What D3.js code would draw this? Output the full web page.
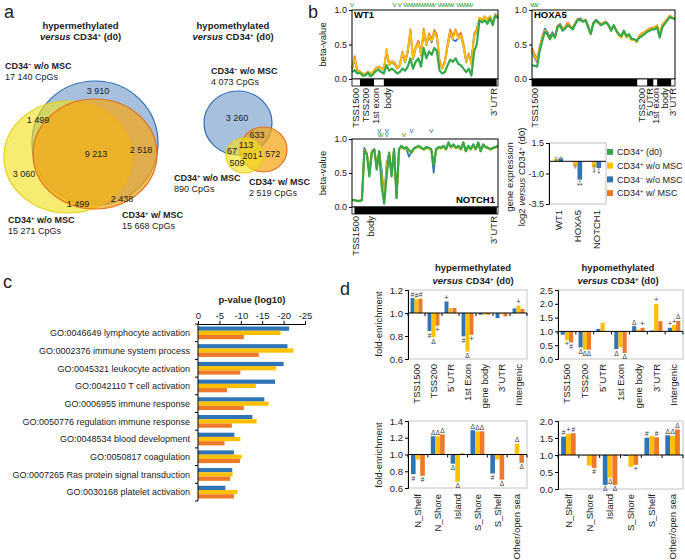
<!DOCTYPE html>
<html><head><meta charset="utf-8">
<script src="https://cdn.jsdelivr.net/npm/d3@7"></script>
<style>body{margin:0;background:#fff}svg{display:block}</style>
</head><body>
<svg id="fig" width="685" height="560"></svg>
<script>
// ================= DATA =================
// Panel a: Venn counts
const vennSetNames = ["CD34^- w/o MSC", "CD34^+ w/o MSC", "CD34^+ w/ MSC"];
const hyperTotals = [17140, 15271, 15668];
const hyperRegions = [3910, 1499, 9213, 2518, 3060, 1499, 2438];
const hypoTotals = [4073, 890, 2519];
const hypoRegions = [3260, 633, 113, 67, 201, 1572, 509];

// Panel b: beta-values along genes
const wt1Green = [0.10,0.13,0.08,0.09,0.05,0.05,0.09,0.04,0.07,0.12,0.13,0.10,0.08,0.20,0.12,0.15,0.12,0.08,0.10,0.15,0.12,0.18,0.30,0.15,0.25,0.30,0.18,0.45,0.30,0.40,0.35,0.45,0.40,0.12,0.08,0.10,0.20,0.28,0.25,0.30,0.22,0.20,0.15,0.10,0.15,0.05,0.40,0.50,0.85,0.82,0.85,0.80,0.88,0.78,0.92,0.88];
const wt1Yellow = [0.15,0.30,0.12,0.10,0.08,0.06,0.10,0.07,0.10,0.15,0.17,0.15,0.13,0.44,0.20,0.25,0.22,0.15,0.20,0.38,0.25,0.40,0.70,0.30,0.45,0.52,0.35,0.70,0.50,0.63,0.55,0.68,0.60,0.25,0.15,0.25,0.48,0.68,0.58,0.70,0.58,0.63,0.48,0.25,0.35,0.20,0.63,0.70,0.88,0.85,0.90,0.85,0.90,0.80,0.93,0.90];
const wt1Orange = [0.16,0.33,0.13,0.11,0.08,0.07,0.11,0.07,0.11,0.16,0.18,0.16,0.14,0.42,0.22,0.26,0.24,0.16,0.21,0.40,0.27,0.42,0.72,0.32,0.47,0.55,0.37,0.73,0.52,0.66,0.57,0.71,0.64,0.27,0.16,0.27,0.52,0.72,0.62,0.72,0.63,0.67,0.52,0.27,0.37,0.22,0.66,0.72,0.89,0.86,0.91,0.86,0.91,0.81,0.94,0.91];
const wt1Blue = [0.14,0.28,0.12,0.10,0.08,0.06,0.10,0.07,0.10,0.15,0.16,0.15,0.13,0.40,0.20,0.24,0.21,0.15,0.19,0.36,0.24,0.38,0.68,0.29,0.44,0.55,0.34,0.68,0.49,0.62,0.53,0.67,0.60,0.24,0.15,0.24,0.47,0.66,0.57,0.55,0.59,0.62,0.47,0.24,0.34,0.28,0.62,0.69,0.87,0.85,0.90,0.85,0.90,0.80,0.93,0.90];
const wt1Segments = [[0,3],[3,8.3],[8.3,12],[12,54.5],[54.5,55]];
const wt1Regions = ["TSS1500","TSS200","1st exon","body","3´UTR"];
const wt1RegionAt = [1.5,5.3,9,13.6,53.5];
const wt1MarksGreen = [0,16,18,20,21,22,23,24,25,26,27,28,29,30,31,33,34,35,36,37,38,40,41,42,43,44,45];

const hoxGreen = [0.20,0.19,0.18,0.40,0.55,0.68,0.65,0.58,0.65,0.60,0.75,0.78,0.70,0.73,0.78,0.75,0.72,0.80,0.86,0.85,0.83,0.85,0.75,0.65,0.80,0.85,0.82,0.78,0.80,0.82,0.78,0.70,0.78,0.70,0.65,0.62,0.70,0.62,0.65,0.58,0.58,0.55,0.60,0.62,0.65,0.68,0.70,0.72,0.72,0.75,0.60,0.75,0.80,0.85,0.90,0.88,0.87];
const hoxYellow = [0.42,0.33,0.27,0.45,0.58,0.70,0.64,0.57,0.64,0.60,0.74,0.77,0.71,0.74,0.80,0.76,0.73,0.81,0.86,0.85,0.84,0.85,0.76,0.66,0.80,0.84,0.81,0.79,0.81,0.82,0.77,0.71,0.76,0.70,0.63,0.60,0.69,0.60,0.63,0.56,0.57,0.53,0.62,0.65,0.67,0.70,0.72,0.73,0.74,0.77,0.63,0.78,0.82,0.86,0.91,0.89,0.87];
const hoxOrange = [0.45,0.36,0.29,0.47,0.60,0.71,0.66,0.59,0.66,0.62,0.76,0.79,0.72,0.76,0.82,0.77,0.74,0.82,0.87,0.86,0.84,0.86,0.77,0.67,0.81,0.85,0.82,0.80,0.82,0.83,0.78,0.72,0.77,0.71,0.64,0.61,0.70,0.61,0.64,0.57,0.58,0.54,0.63,0.66,0.68,0.71,0.73,0.74,0.75,0.78,0.64,0.79,0.83,0.87,0.92,0.89,0.88];
const hoxBlue = [0.40,0.31,0.25,0.44,0.60,0.73,0.68,0.61,0.68,0.62,0.77,0.80,0.72,0.75,0.79,0.76,0.73,0.81,0.87,0.88,0.84,0.86,0.76,0.66,0.81,0.86,0.83,0.79,0.81,0.83,0.78,0.71,0.78,0.70,0.64,0.61,0.70,0.61,0.64,0.57,0.57,0.54,0.61,0.63,0.66,0.69,0.71,0.73,0.73,0.76,0.61,0.76,0.81,0.86,0.90,0.88,0.87];
const hoxSegments = [[0,41.2],[41.2,45.1],[45.1,47.5],[47.5,49],[49,54.5],[54.5,56]];
const hoxRegions = ["TSS1500","TSS200","5´UTR","1st exon","body","3´UTR"];
const hoxRegionAt = [1.2,42.8,45.9,48.6,51.9,55];
const hoxMarksGreen = [0,1,2];

const notchGreen = [0.10,0.10,0.09,0.09,0.10,0.82,0.78,0.45,0.80,0.85,0.55,0.82,0.30,0.05,0.45,0.80,0.45,0.85,0.13,0.85,0.90,0.86,0.88,0.84,0.80,0.86,0.88,0.90,0.87,0.85,0.88,0.87,0.85,0.62,0.85,0.88,0.87,0.90,0.85,0.95,0.88,0.92,0.87,0.90,0.85,0.95,0.82,0.90,0.85,0.92,0.85,0.95,0.82,0.92,0.88,0.87,0.85,0.87,0.88,0.90];
const notchYellow = [0.10,0.10,0.09,0.09,0.10,0.80,0.78,0.55,0.82,0.84,0.58,0.80,0.45,0.10,0.60,0.80,0.48,0.84,0.14,0.84,0.88,0.85,0.87,0.82,0.80,0.85,0.87,0.88,0.86,0.84,0.86,0.86,0.84,0.64,0.84,0.86,0.86,0.88,0.84,0.93,0.87,0.90,0.86,0.88,0.84,0.93,0.82,0.88,0.84,0.90,0.84,0.93,0.82,0.90,0.87,0.86,0.84,0.86,0.87,0.89];
const notchOrange = [0.10,0.10,0.09,0.09,0.10,0.84,0.79,0.50,0.81,0.85,0.58,0.82,0.40,0.08,0.50,0.80,0.46,0.85,0.14,0.85,0.89,0.86,0.88,0.83,0.80,0.86,0.88,0.89,0.87,0.85,0.87,0.87,0.85,0.62,0.85,0.87,0.87,0.89,0.85,0.94,0.88,0.91,0.87,0.89,0.85,0.94,0.82,0.89,0.85,0.91,0.85,0.94,0.82,0.91,0.88,0.87,0.85,0.87,0.88,0.90];
const notchBlue = [0.10,0.10,0.09,0.09,0.10,0.87,0.78,0.50,0.80,0.85,0.60,0.82,0.55,0.15,0.65,0.78,0.50,0.85,0.14,0.85,0.90,0.86,0.86,0.74,0.80,0.86,0.88,0.90,0.87,0.85,0.88,0.87,0.85,0.50,0.85,0.88,0.87,0.90,0.85,0.94,0.88,0.92,0.87,0.90,0.85,0.94,0.82,0.90,0.85,0.92,0.85,0.94,0.82,0.92,0.88,0.87,0.85,0.87,0.88,0.90];
const notchSegments = [[0,1],[1,58.5],[58.5,59]];
const notchRegions = ["TSS1500","body","3´UTR"];
const notchRegionAt = [1.6,7.5,57.4];
const notchMarksGreen = [11,12,14,21];
const notchMarksBlue = [11,14,24,32];

// Panel b: gene expression
const exprGenes = ["WT1","HOXA5","NOTCH1"];
const exprYellow = [0.20,-0.43,-0.50];
const exprBlue = [0.25,-1.50,-0.55];
const exprYellowErr = [0.12,0.12,0.15];
const exprBlueErr = [0.10,0.18,0.15];
const exprSigYellow = ["","","*"];
const exprSigBlue = ["","**","*"];
const legendNames = ["CD34^+ (d0)","CD34^+ w/o MSC","CD34^- w/o MSC","CD34^+ w/ MSC"];

// Panel c: GO terms, p-value (log10)
const goTerms = ["GO:0046649 lymphocyte activation","GO:0002376 immune system process","GO:0045321 leukocyte activation","GO:0042110 T cell activation","GO:0006955 immune response","GO:0050776 regulation immune response","GO:0048534 blood development","GO:0050817 coagulation","GO:0007265 Ras protein signal transduction","GO:0030168 platelet activation"];
const goBlue = [-21.3,-20.9,-20.0,-18.0,-15.5,-12.7,-8.5,-8.4,-8.0,-6.4];
const goYellow = [-19.3,-22.3,-18.2,-13.5,-16.5,-13.7,-9.9,-10.2,-8.1,-9.2];
const goOrange = [-10.7,-14.2,-9.9,-6.8,-10.7,-7.9,-6.2,-9.8,-7.5,-8.4];
const goTicks = [0,-5,-10,-15,-20,-25];

// Panel d: fold-enrichment
const regionCats = ["TSS1500","TSS200","5´UTR","1st Exon","gene body","3´UTR","Intergenic"];
const islandCats = ["N_Shelf","N_Shore","Island","S_Shore","S_Shelf","Other/open sea"];
const hyperRegBlue = [1.13,0.843,1.10,0.797,0.985,0.955,1.04];
const hyperRegYellow = [1.12,0.79,1.043,0.665,0.985,0.99,1.065];
const hyperRegOrange = [1.125,0.89,1.043,0.81,0.985,0.97,1.035];
const hyperRegSymB = ["#","#","+","#","","",""];
const hyperRegSymY = ["#","Δ","","Δ","","","+"];
const hyperRegSymO = ["#","+","","+","","",""];
const hypoRegBlue = [0.88,0.42,1.09,0.36,1.19,1.03,1.13];
const hypoRegYellow = [0.69,0.34,1.31,0.42,1.07,2.0,1.23];
const hypoRegOrange = [0.60,0.34,1.0,0.22,1.13,1.37,1.38];
const hypoRegSymB = ["","Δ","","Δ","Δ","","+"];
const hypoRegSymY = ["+","Δ","","","","+","+"];
const hypoRegSymO = ["#","Δ","","Δ","+","","Δ"];
const hyperIslBlue = [0.765,1.218,0.89,1.29,0.773,1.0];
const hyperIslYellow = [0.94,1.218,0.674,1.277,0.94,1.13];
const hyperIslOrange = [0.745,1.24,1.012,1.277,0.70,0.90];
const hyperIslSymB = ["#","Δ","Δ","Δ","#",""];
const hyperIslSymY = ["","Δ","Δ","Δ","","Δ"];
const hyperIslSymO = ["#","Δ","","Δ","Δ","Δ"];
const hypoIslBlue = [1.54,0.99,0.12,0.97,1.51,1.58];
const hypoIslYellow = [1.62,0.69,0.33,0.65,1.56,1.56];
const hypoIslOrange = [1.64,0.62,0.12,0.71,1.52,1.75];
const hypoIslSymB = ["#","","Δ","","#","Δ"];
const hypoIslSymY = ["+","","Δ","","","Δ"];
const hypoIslSymO = ["#","#","Δ","+","#","Δ"];

// ================= STYLE / LAYOUT =================
const FONT = "'Liberation Sans', Arial, Helvetica, sans-serif";
const COL = {green:"#34A84A", yellow:"#FFC000", blue:"#2E74B6", orange:"#EC7A2A"};
const svg = d3.select("#fig").attr("font-family", FONT);

function rich(t, str){
  const parts = str.split(/(\^[+\-]|_[^_]+_)/).filter(s=>s.length);
  parts.forEach(p=>{
    if(p[0]==="^" && p.length===2) t.append("tspan").attr("baseline-shift","super").attr("font-size","65%").text(p[1]==="-"?"−":"+");
    else if(p[0]==="_" && p.length>2) t.append("tspan").attr("font-style","italic").text(p.slice(1,-1));
    else t.append("tspan").text(p);
  });
  return t;
}
function txt(x,y,str,o={}){
  const t = svg.append("text").attr("x",x).attr("y",y)
    .attr("font-size",o.size||9).attr("fill",o.fill||"#222")
    .attr("text-anchor",o.anchor||"start");
  if(o.bold) t.attr("font-weight","bold");
  rich(t,str); return t;
}
function vtxt(x,y,str,o={}){
  const t = svg.append("text").attr("transform",`translate(${x},${y}) rotate(-90)`)
    .attr("dy","0.35em").attr("font-size",o.size||9.5).attr("fill",o.fill||"#222")
    .attr("text-anchor",o.anchor||"end");
  if(o.bold) t.attr("font-weight","bold");
  rich(t,str); return t;
}
const fmtThousands = v => d3.format(",")(v).replace(/,/g," ");

// panel letters
txt(4,18,"a",{size:18}); txt(308,18,"b",{size:18}); txt(3,288,"c",{size:18}); txt(340,295,"d",{size:18});

// ================= PANEL A =================
const vennStyle = {
  blue:{fill:"#4F81BD",op:0.5,stroke:"#2E6DB4"},
  yellow:{fill:"#F2E01C",op:0.62,stroke:"#E3CF1A"},
  orange:{fill:"#F5A512",op:0.72,stroke:"#E0701E"}
};
function ellipse(key, g){
  const s = vennStyle[key];
  svg.append("ellipse").attr("cx",g[0]).attr("cy",g[1]).attr("rx",g[2]).attr("ry",g[3])
    .attr("fill",s.fill).attr("fill-opacity",s.op).attr("stroke",s.stroke).attr("stroke-width",1.2);
}
const hyperGeom = {blue:[95,143,63,62], yellow:[68,157,64,56], orange:[95,154,62,55]};
["blue","yellow","orange"].forEach(k=>ellipse(k,hyperGeom[k]));
const hypoGeom = {blue:[238,123,34,32], orange:[263.5,149.5,23.5,22.5], yellow:[244.5,155.5,18.5,17.5]};
["blue","orange","yellow"].forEach(k=>ellipse(k,hypoGeom[k]));

txt(80.5,28.5,"hypermethylated",{size:9.5,bold:true,anchor:"middle"});
txt(80.5,40,"_versus_ CD34^+ (d0)",{size:9.5,bold:true,anchor:"middle"});
txt(233,28.5,"hypomethylated",{size:9.5,bold:true,anchor:"middle"});
txt(233,40,"_versus_ CD34^+ (d0)",{size:9.5,bold:true,anchor:"middle"});

const hyperRegionPos = [[98,94],[38,123],[96,157],[141,153],[24,177],[78,207],[122,202]];
hyperRegions.forEach((v,i)=>txt(hyperRegionPos[i][0],hyperRegionPos[i][1],fmtThousands(v),{size:9,anchor:"middle"}));
const hyperLabelPos = [[5,69],[8,223],[122,218]];
vennSetNames.forEach((n,i)=>{
  txt(hyperLabelPos[i][0],hyperLabelPos[i][1],n,{size:9,bold:true});
  txt(hyperLabelPos[i][0],hyperLabelPos[i][1]+11,fmtThousands(hyperTotals[i])+" CpGs",{size:9});
});
const hypoRegionPos = [[237,121],[257,138],[246,148],[232,154],[250,159],[269,157],[237,166]];
hypoRegions.forEach((v,i)=>txt(hypoRegionPos[i][0],hypoRegionPos[i][1],fmtThousands(v),{size:9,anchor:"middle"}));
const hypoLabelPos = [[211,74],[174,181],[249,185]];
vennSetNames.forEach((n,i)=>{
  txt(hypoLabelPos[i][0],hypoLabelPos[i][1],n,{size:9,bold:true});
  txt(hypoLabelPos[i][0],hypoLabelPos[i][1]+11,fmtThousands(hypoTotals[i])+" CpGs",{size:9});
});

// ================= PANEL B: line charts =================
function styleAxis(ax, size){
  ax.attr("font-family",FONT).attr("font-size",size||9);
  ax.selectAll("text").attr("fill","#222");
  ax.selectAll("line").attr("stroke","#000");
}
function lineChart(L, series, segs, regions, regionAt, marks){
  const n = series[0].vals.length;
  const x = d3.scaleLinear().domain([0,n-1]).range([L.x0,L.x1]);
  const y = d3.scaleLinear().domain([0,1]).range([L.y1,L.y0]);
  const ax = svg.append("g").attr("transform",`translate(${L.x0},0)`)
    .call(d3.axisLeft(y).tickValues([0,0.5,1]).tickFormat(d=>d.toFixed(1)).tickSize(3).tickPadding(2));
  ax.select(".domain").remove(); styleAxis(ax,9);
  const line = d3.line().x((d,i)=>x(i)).y(d=>y(d)).curve(d3.curveLinear);
  series.forEach(s=>svg.append("path").datum(s.vals).attr("d",line).attr("fill","none")
    .attr("stroke",s.color).attr("stroke-width",s.w).attr("stroke-linejoin","round"));
  svg.append("rect").attr("x",L.x0).attr("y",L.y0).attr("width",L.x1-L.x0).attr("height",L.y1-L.y0)
    .attr("fill","none").attr("stroke","#000").attr("stroke-width",1);
  // gene structure bar
  svg.append("rect").attr("x",L.x0).attr("y",L.y1).attr("width",L.x1-L.x0).attr("height",7)
    .attr("fill","#fff").attr("stroke","#000").attr("stroke-width",0.8);
  segs.forEach((s,i)=>{ if(L.firstBlack ? i%2===0 : i%2===1)
    svg.append("rect").attr("x",x(s[0])).attr("y",L.y1).attr("width",x(s[1])-x(s[0])).attr("height",7).attr("fill","#000"); });
  regions.forEach((r,i)=>vtxt(x(regionAt[i]),L.y1+9,r,{size:9.5}));
  marks.forEach(m=>m.idx.forEach(i=>svg.append("text").attr("x",x(i)).attr("y",L.y0-m.dy)
    .attr("text-anchor","middle").attr("font-size",8).attr("fill",m.color).text("v")));
  return {x,y};
}
function seriesOf(g,yl,b,o){
  return [{vals:b,color:COL.blue,w:1.7},{vals:o,color:COL.orange,w:1.8},{vals:yl,color:COL.yellow,w:1.8},{vals:g,color:COL.green,w:2.2}];
}
lineChart({x0:352,x1:498,y0:10,y1:79,firstBlack:false}, seriesOf(wt1Green,wt1Yellow,wt1Blue,wt1Orange),
  wt1Segments, wt1Regions, wt1RegionAt, [{idx:wt1MarksGreen,color:COL.green,dy:3}]);
txt(354,18,"WT1",{size:9.5,bold:true,fill:"#000"});
lineChart({x0:532,x1:675,y0:10,y1:79,firstBlack:true}, seriesOf(hoxGreen,hoxYellow,hoxBlue,hoxOrange),
  hoxSegments, hoxRegions, hoxRegionAt, [{idx:hoxMarksGreen,color:COL.green,dy:3}]);
txt(534,18,"HOXA5",{size:9.5,bold:true,fill:"#000"});
lineChart({x0:352,x1:498,y0:139,y1:207,firstBlack:false}, seriesOf(notchGreen,notchYellow,notchBlue,notchOrange),
  notchSegments, notchRegions, notchRegionAt, [{idx:notchMarksBlue,color:COL.blue,dy:6},{idx:notchMarksGreen,color:COL.green,dy:2}]);
txt(495,203,"NOTCH1",{size:9.5,bold:true,fill:"#000",anchor:"end"});
vtxt(323,44.5,"beta-value",{size:9.5,anchor:"middle"});
vtxt(323,173,"beta-value",{size:9.5,anchor:"middle"});

// expression chart
(function(){
  const L = {x0:549,x1:606,y0:143,y1:204};
  const x = d3.scaleBand().domain(exprGenes).range([L.x0,L.x1]);
  const xs = d3.scaleBand().domain(["g","y","b","o"]).range([0,x.bandwidth()]).paddingOuter(0.05);
  const y = d3.scaleLinear().domain([-3.5,1.5]).range([L.y1,L.y0]);
  svg.append("rect").attr("x",L.x0).attr("y",L.y0).attr("width",L.x1-L.x0).attr("height",L.y1-L.y0)
    .attr("fill","none").attr("stroke","#BFBFBF");
  const sets = [{k:"y",v:exprYellow,e:exprYellowErr,s:exprSigYellow,c:COL.yellow},{k:"b",v:exprBlue,e:exprBlueErr,s:exprSigBlue,c:COL.blue}];
  sets.forEach(st=>exprGenes.forEach((gname,i)=>{
    const v=st.v[i], bx=x(gname)+xs(st.k), bw=xs.bandwidth();
    svg.append("rect").attr("x",bx).attr("y",y(Math.max(0,v))).attr("width",bw).attr("height",Math.abs(y(v)-y(0))).attr("fill",st.c);
    const cx=bx+bw/2, e=st.e[i];
    svg.append("line").attr("x1",cx).attr("x2",cx).attr("y1",y(v-e)).attr("y2",y(v+e)).attr("stroke","#777").attr("stroke-width",0.7);
    [v-e,v+e].forEach(t=>svg.append("line").attr("x1",cx-1.2).attr("x2",cx+1.2).attr("y1",y(t)).attr("y2",y(t)).attr("stroke","#777").attr("stroke-width",0.7));
    if(st.s[i]) svg.append("text").attr("x",cx).attr("y",y(v-e)+6).attr("text-anchor","middle").attr("font-size",7).attr("fill","#333").text(st.s[i]);
  }));
  svg.append("line").attr("x1",L.x0).attr("x2",L.x1).attr("y1",y(0)).attr("y2",y(0)).attr("stroke","#000");
  const ax = svg.append("g").attr("transform",`translate(${L.x0},0)`)
    .call(d3.axisLeft(y).tickValues([1.5,-1.0,-3.5]).tickFormat(d=>d.toFixed(1)).tickSize(3).tickPadding(2));
  styleAxis(ax,9); ax.select(".domain").attr("stroke","#000");
  exprGenes.forEach(gname=>vtxt(x(gname)+x.bandwidth()/2,L.y1+6,gname,{size:9.5}));
  vtxt(510,177,"gene expression",{size:9.5,anchor:"middle"});
  vtxt(521.5,177,"log2 _versus_ CD34^+ (d0)",{size:9.5,anchor:"middle"});
  const lc = [COL.green,COL.yellow,COL.blue,COL.orange];
  const ly = d3.scaleBand().domain(legendNames).range([145,200]);
  legendNames.forEach((nm,i)=>{
    const cy = ly(nm)+ly.bandwidth()/2;
    svg.append("rect").attr("x",607).attr("y",cy-3).attr("width",6).attr("height",6).attr("fill",lc[i]);
    txt(617,cy+3.3,nm,{size:9});
  });
})();

// ================= PANEL C =================
(function(){
  const x = d3.scaleLinear().domain([0,-25]).range([198,305]);
  const y = d3.scaleBand().domain(goTerms).range([324,501]).paddingInner(0.28).paddingOuter(0.14);
  const ys = d3.scaleBand().domain([0,1,2]).range([0,y.bandwidth()]);
  const sets=[goBlue,goYellow,goOrange], cols=[COL.blue,COL.yellow,COL.orange];
  sets.forEach((arr,si)=>goTerms.forEach((t,i)=>{
    svg.append("rect").attr("x",x(0)).attr("y",y(t)+ys(si)).attr("width",x(arr[i])-x(0)).attr("height",ys.bandwidth()).attr("fill",cols[si]);
  }));
  const ax = svg.append("g").attr("transform","translate(0,324)")
    .call(d3.axisTop(x).tickValues(goTicks).tickFormat(d=>String(d)).tickSize(3).tickPadding(2));
  styleAxis(ax,9.5); ax.select(".domain").attr("stroke","#000");
  svg.append("line").attr("x1",198).attr("x2",198).attr("y1",324).attr("y2",501).attr("stroke","#000");
  d3.range(goTerms.length+1).forEach(k=>{
    const yy = 324 + k*y.step();
    svg.append("line").attr("x1",195).attr("x2",198).attr("y1",yy).attr("y2",yy).attr("stroke","#000");
  });
  goTerms.forEach(t=>txt(190,y(t)+y.bandwidth()/2+3.3,t,{size:9,anchor:"end"}));
  txt(252,303,"p-value (log10)",{size:9.5,bold:true,anchor:"middle"});
})();

// ================= PANEL D =================
function foldChart(L, cats, vals, syms, domain, ticks, labelTop){
  const x = d3.scaleBand().domain(cats).range([L.x0,L.x1]).paddingInner(0.3).paddingOuter(0.15);
  const xs = d3.scaleBand().domain([0,1,2]).range([0,x.bandwidth()]);
  const y = d3.scaleLinear().domain(domain).range([L.y1,L.y0]);
  svg.append("rect").attr("x",L.x0).attr("y",L.y0).attr("width",L.x1-L.x0).attr("height",L.y1-L.y0)
    .attr("fill","none").attr("stroke","#C4C4C4");
  const cols=[COL.blue,COL.yellow,COL.orange];
  vals.forEach((arr,si)=>cats.forEach((c,i)=>{
    const v=arr[i], bx=x(c)+xs(si), bw=xs.bandwidth();
    svg.append("rect").attr("x",bx).attr("y",y(Math.max(1,v))).attr("width",bw).attr("height",Math.abs(y(v)-y(1))).attr("fill",cols[si]);
    const s=syms[si][i];
    if(s) svg.append("text").attr("x",bx+bw/2).attr("y",v>=1? y(v)-1.5 : y(v)+6.5)
      .attr("text-anchor","middle").attr("font-size",s==="+"?7.5:6.5).attr("fill","#333").text(s);
  }));
  svg.append("line").attr("x1",L.x0).attr("x2",L.x1).attr("y1",y(1)).attr("y2",y(1)).attr("stroke","#000");
  d3.range(cats.length+1).forEach(k=>{
    const xx = L.x0 + k*x.step();
    svg.append("line").attr("x1",xx).attr("x2",xx).attr("y1",y(1)).attr("y2",y(1)+3).attr("stroke","#000");
  });
  const ax = svg.append("g").attr("transform",`translate(${L.x0},0)`)
    .call(d3.axisLeft(y).tickValues(ticks).tickFormat(d=>d.toFixed(1)).tickSize(3).tickPadding(2));
  styleAxis(ax,9.5); ax.select(".domain").attr("stroke","#000");
  cats.forEach(c=>vtxt(x(c)+x.bandwidth()/2,labelTop,c,{size:9.5}));
}
foldChart({x0:408,x1:527,y0:290,y1:359}, regionCats, [hyperRegBlue,hyperRegYellow,hyperRegOrange],
  [hyperRegSymB,hyperRegSymY,hyperRegSymO], [0.6,1.2], [0.6,0.8,1.0,1.2], 364);
foldChart({x0:558,x1:683,y0:290,y1:359}, regionCats, [hypoRegBlue,hypoRegYellow,hypoRegOrange],
  [hypoRegSymB,hypoRegSymY,hypoRegSymO], [0,2.5], [0,0.5,1.0,1.5,2.0,2.5], 364);
foldChart({x0:408,x1:527,y0:421,y1:488}, islandCats, [hyperIslBlue,hyperIslYellow,hyperIslOrange],
  [hyperIslSymB,hyperIslSymY,hyperIslSymO], [0.6,1.4], [0.6,0.8,1.0,1.2,1.4], 494);
foldChart({x0:558,x1:683,y0:421,y1:489}, islandCats, [hypoIslBlue,hypoIslYellow,hypoIslOrange],
  [hypoIslSymB,hypoIslSymY,hypoIslSymO], [0,2.0], [0,0.5,1.0,1.5,2.0], 494);
vtxt(379,324,"fold-enrichment",{size:9.5,anchor:"middle"});
vtxt(379,455,"fold-enrichment",{size:9.5,anchor:"middle"});
txt(473,271,"hypermethylated",{size:9.5,bold:true,anchor:"middle"});
txt(473,284,"_versus_ CD34^+ (d0)",{size:9.5,bold:true,anchor:"middle"});
txt(618,271,"hypomethylated",{size:9.5,bold:true,anchor:"middle"});
txt(618,284,"_versus_ CD34^+ (d0)",{size:9.5,bold:true,anchor:"middle"});
</script>
</body></html>
